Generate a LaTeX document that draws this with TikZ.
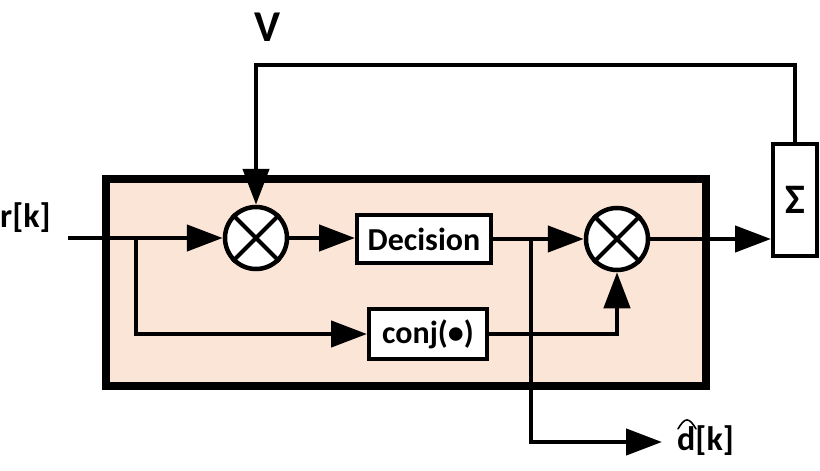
\documentclass[tikz,border=0pt]{standalone}
\usepackage{fontspec}
\setmainfont{Carlito}
\usetikzlibrary{arrows.meta}
\definecolor{peach}{RGB}{251,229,214}
\begin{document}
\begin{tikzpicture}[x=1pt,y=-1pt,
  conn/.style={line width=4.5pt, -{Triangle[length=36pt,width=26pt]}},
  blockbox/.style={draw, line width=4pt, fill=white, inner sep=0pt, font=\fontsize{32}{36}\selectfont\bfseries},
  mult/.style={draw, circle, line width=4.5pt, fill=white, minimum size=62pt, inner sep=0pt},
  lbl/.style={inner sep=0pt, font=\fontsize{34}{38}\selectfont\bfseries}]
\useasboundingbox (0,0) rectangle (820,471);
% outer block
\draw[line width=8pt, fill=peach] (106,179) rectangle (706,386);
% blocks
\node[mult] (m1) at (256,238) {};
\node[mult] (m2) at (617,239) {};
\node[blockbox, minimum width=134pt, minimum height=48pt] (dec) at (424,239) {Decision};
\node[blockbox, minimum width=118pt, minimum height=50pt] (conj) at (428,334) {conj(•)};
\node[draw, line width=4pt, fill=white, inner sep=0pt, minimum width=44pt, minimum height=112pt,
      font=\fontsize{42}{46}\selectfont\bfseries] (sig) at (795,200) {Σ};
% multiplier crosses
\draw[line width=4pt] (m1.north west) -- (m1.south east) (m1.north east) -- (m1.south west);
\draw[line width=4pt] (m2.north west) -- (m2.south east) (m2.north east) -- (m2.south west);
% labels
\node[lbl, anchor=west] (rk) at (0,218) {r[k]};
\node[lbl, font=\fontsize{44}{48}\selectfont\bfseries] (V) at (268,27) {V};
\node[lbl, anchor=west] (dk) at (677,441) {d[k]};
\draw[line width=1.6pt, line join=round, line cap=round]
  ([xshift=1pt,yshift=-3pt]dk.north west) .. controls +(3,-5) and +(-3,0) .. ++(9,-9)
  .. controls +(3,0) and +(-3,-5) .. ++(9,9);
% coordinates
\coordinate (in) at (68,238);
\coordinate (b1) at (136,238);
\coordinate (b2) at (531,239);
\coordinate (dend) at (662,442);
\coordinate (fb) at (795,65);
% connectors
\draw[conn] (in) -- (m1.west);
\draw[conn] (b1) |- (conj.west);
\draw[conn] (m1.east) -- (m1.east -| dec.west);
\draw[conn] (dec.east) -- (m2.west);
\draw[conn] (b2) |- (dend);
\draw[conn] (conj.east) -| (m2.south);
\draw[conn] (m2.east) -- (m2.east -| sig.west);
\draw[conn] (sig.north) -- (fb) -| (m1.north);
\end{tikzpicture}
\end{document}
